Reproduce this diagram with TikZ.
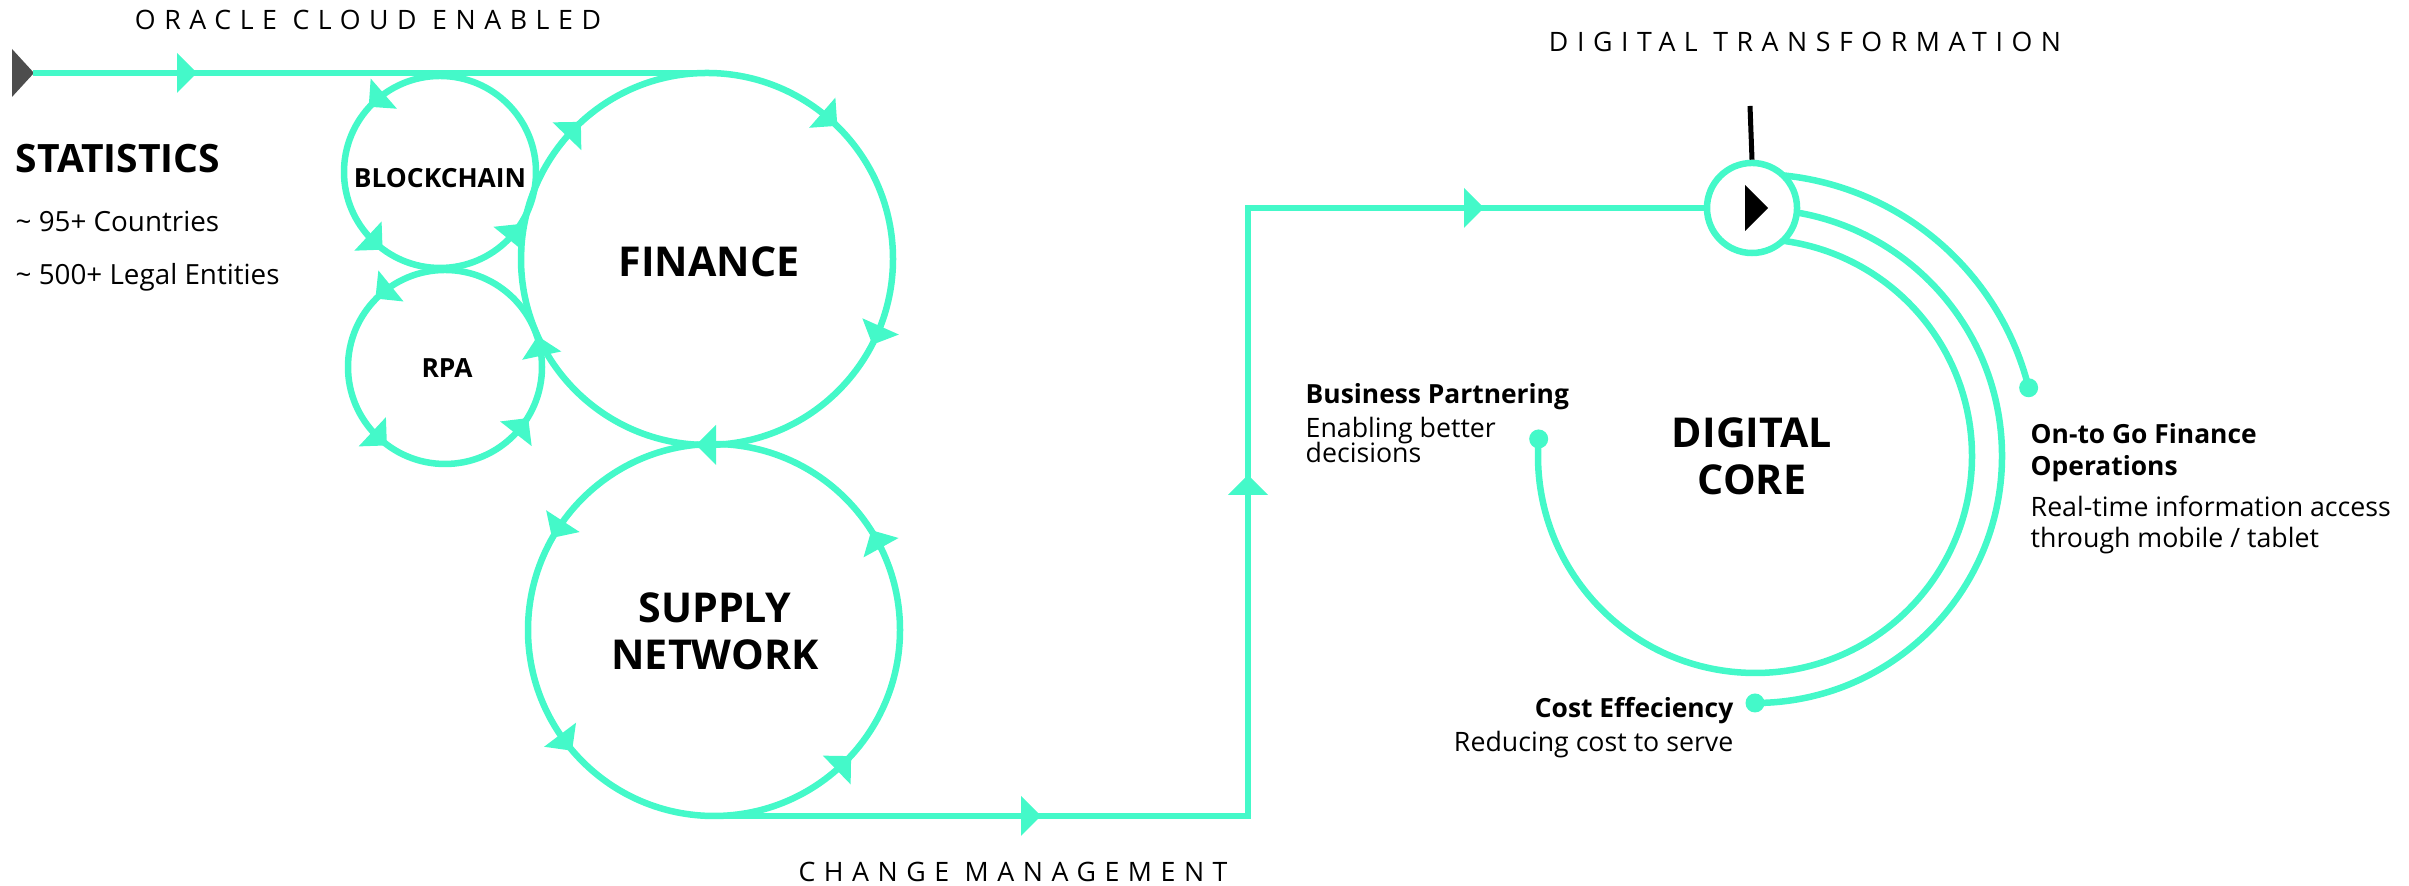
\documentclass[tikz,border=0pt]{standalone}
\usepackage{fontspec}
\setmainfont{Open Sans}
\usetikzlibrary{calc}
\definecolor{mint}{HTML}{44F9C9}
\definecolor{startgray}{HTML}{4D4D4D}

% arrowheads placed on a ring: centre, radius, list of angle/turn (90 = ccw, -90 = cw)
\newcommand\ringheads[3]{%
  \foreach \a/\t in {#3}{%
    \pgfmathsetmacro\rr{\a+\t}%
    \path (#1) ++(\a:#2) pic[rotate=\rr] {flowhead};}}

\begin{document}
\begin{tikzpicture}[x=0.01cm, y=0.01cm,
  flow/.style={draw=mint, line width=0.065cm},
  flowhead/.pic={\fill[mint] (-9,-20) -- (11,0) -- (-9,20) -- cycle;},
  spaced/.style={inner sep=0, font=\fontsize{7.6}{9}\selectfont\addfontfeatures{LetterSpace=32}},
  biglabel/.style={inner sep=0, align=center, font=\bfseries\fontsize{11.7}{13.4}\selectfont},
  smalllabel/.style={inner sep=0, font=\bfseries\fontsize{7.5}{9}\selectfont},
  headline/.style={inner sep=0, anchor=base west, font=\bfseries\fontsize{7.5}{9}\selectfont},
  bodyline/.style={inner sep=0, anchor=base west, font=\fontsize{7.6}{9}\selectfont},
  dot/.style={fill=mint},
]
\useasboundingbox (0,0) rectangle (2409,886);

% ring centres
\coordinate (bc)   at (440,714);
\coordinate (rpa)  at (445,519);
\coordinate (fin)  at (707,627);
\coordinate (sup)  at (714,256);
\coordinate (core) at (1755,430);

% start marker and the incoming line
\fill[startgray] (12,837) -- (34,813) -- (12,789) -- cycle;
\coordinate (start) at (33,813);
\coordinate (fintop) at (707,813);
\draw[flow] (start) -- (fintop);
\pic at (186,813) {flowhead};

% the cycles
\draw[flow] (bc) circle[radius=96];
\draw[flow] (rpa) circle[radius=97];
\draw[flow] (fin) circle[radius=186];
\draw[flow] (sup) circle[radius=186];

\ringheads{bc}{96}{131/90, 227/90, 321/90}
\ringheads{rpa}{97}{129/90, 227/90, 322/90, 12/90}
\ringheads{fin}{186}{136/-90, 49/-90, -24/-90, 270/-90}
\ringheads{sup}{186}{147/90, 217/90, 314/90, 29/90}

% labels inside the cycles
\node[smalllabel] (bct) at (440,708) {BLOCKCHAIN};
\node[smalllabel] (rpat) at (447,518) {RPA};
\node[biglabel] (fint) at (709,624) {FINANCE};
\node[biglabel] (supt) at (715,255) {SUPPLY\\NETWORK};

% statistics
\node[inner sep=0, anchor=base west, font=\bfseries\fontsize{11.1}{13}\selectfont] (stat) at (15,713) {STATISTICS};
\node[inner sep=0, anchor=base west, font=\fontsize{7.9}{10}\selectfont] (cty) at (15,654) {\textasciitilde{} 95+ Countries};
\node[inner sep=0, anchor=base west, font=\fontsize{7.9}{10}\selectfont] (ent) at (15,601) {\textasciitilde{} 500+ Legal Entities};

% digital core arcs (drawn beneath the hub)
\draw[flow] (core) ++(175.5:217) arc[start angle=175.5, end angle=448, radius=217];
\draw[flow] (core) ++(90:247) arc[start angle=90, end angle=-90, radius=247];
\draw[flow] (core) ++(90:282) arc[start angle=90, end angle=14, radius=282];
\coordinate (bpdot) at ($(core)+(175.5:217)$);
\coordinate (cedot) at ($(core)+(-90:247)$);
\coordinate (ogdot) at ($(core)+(14:282)$);
\fill[dot] (bpdot) circle[radius=9.5];
\fill[dot] (cedot) circle[radius=9.5];
\fill[dot] (ogdot) circle[radius=9.5];

% hub of the digital transformation
\node[circle, draw=mint, fill=white, line width=0.065cm, minimum size=0.9cm, inner sep=0] (hub) at (1752,678) {};
\fill[black] (1745,701) -- (1768,678) -- (1745,655) -- cycle;
\coordinate (mast) at (1750,780);
\draw[black, line width=0.05cm] (mast) -- (hub.north);

% change-management path
\coordinate (supbot) at (714,70);
\coordinate (corner1) at (1248,70);
\coordinate (corner2) at (1248,678);
\draw[flow] (supbot) -- (corner1) -- (corner2) -- (hub.west);
\pic at (1030,70) {flowhead};
\pic[rotate=90] at (1248,400) {flowhead};
\pic at (1473,678) {flowhead};

% core label
\node[biglabel] (dct) at (1752,430) {DIGITAL\\CORE};

% section captions
\node[spaced] (oce) at (368,866) {ORACLE CLOUD ENABLED};
\node[spaced] (dtt) at (1805,844) {DIGITAL TRANSFORMATION};
\node[spaced] (cmt) at (1013,14) {CHANGE MANAGEMENT};

% outcome notes
\node[headline] (bp1) at (1305,482) {Business Partnering};
\node[bodyline] (bp2) at (1305,448) {Enabling better};
\node[bodyline] (bp3) at (1305,423) {decisions};
\node[headline, anchor=base east] (ce1) at (1734,168) {Cost Effeciency};
\node[bodyline, anchor=base east] (ce2) at (1734,134) {Reducing cost to serve};
\node[headline] (og1) at (2030,442) {On-to Go Finance};
\node[headline] (og2) at (2030,410) {Operations};
\node[bodyline] (og3) at (2030,369) {Real-time information access};
\node[bodyline] (og4) at (2030,338) {through mobile / tablet};
\end{tikzpicture}
\end{document}
